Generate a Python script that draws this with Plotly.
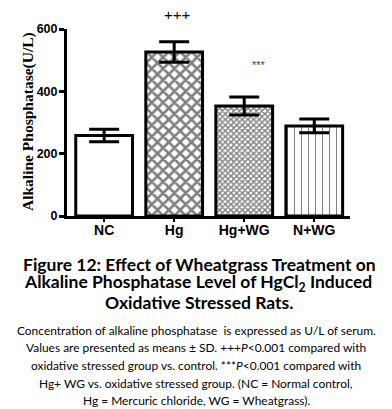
import plotly.graph_objects as go

categories = ["NC", "Hg", "Hg+WG", "N+WG"]
means = [258, 526, 353, 289]
sds = [20, 33, 29, 22]
y_ticks = [0, 200, 400, 600]
y_title = "Alkaline Phosphatase(U/L)"
title_lines = [
    "Figure 12: Effect of Wheatgrass Treatment on",
    "Alkaline Phosphatase Level of HgCl<sub>2</sub> Induced",
    "Oxidative Stressed Rats.",
]
caption_lines = [
    "Concentration of alkaline phosphatase  is expressed as U/L of serum.",
    "Values are presented as means \u00b1 SD. +++<i>P</i><0.001 compared with",
    "oxidative stressed group vs. control. ***<i>P</i><0.001 compared with",
    "Hg+ WG vs. oxidative stressed group. (NC = Normal control,",
    "Hg = Mercuric chloride, WG = Wheatgrass).",
]

OFF = 8  # default page body margin
W, H = 392, 409
L, R, T, B = 67 - OFF, 42 + OFF, 29 - OFF, 193 + OFF
pw, ph = W - L - R, H - T - B


def px(xp):
    return (xp - OFF - L) / pw


def py(yp):
    return (H - B - (yp - OFF)) / ph


fig = go.Figure()
fig.add_trace(go.Bar(
    x=categories, y=means, width=0.81,
    marker=dict(
        color="white",
        line=dict(color="black", width=3),
        pattern=dict(
            shape=["", "x", "x", "|"],
            size=[6, 8, 4, 7],
            solidity=[0.3, 0.55, 0.6, 0.15],
            fgcolor="black", bgcolor="white", fillmode="overlay",
        ),
    ),
    error_y=dict(type="data", array=sds, visible=True, color="black",
                 thickness=3, width=15),
    showlegend=False,
))

annotations = [
    dict(x=px(177), y=py(14.5), xref="paper", yref="paper", text="+++",
         showarrow=False, font=dict(family="Liberation Sans", size=15, color="black"),
         xanchor="center", yanchor="middle"),
    dict(x=px(259), y=py(65), xref="paper", yref="paper", text="***",
         showarrow=False, font=dict(family="Liberation Sans", size=11, color="#444444"),
         xanchor="center", yanchor="middle"),
    dict(x=px(28), y=py(122), xref="paper", yref="paper", text=y_title,
         textangle=-90, showarrow=False,
         font=dict(family="Liberation Serif", size=15.5, weight="bold", color="black"),
         xanchor="center", yanchor="middle"),
]

title_y = [264, 283, 302]
title_x = [199, 197.5, 198.5]
for t, yy, xx in zip(title_lines, title_y, title_x):
    annotations.append(dict(
        x=px(xx), y=py(yy), xref="paper", yref="paper", text=t, showarrow=False,
        font=dict(family="Lato", size=17.5, weight="bold", color="black"),
        xanchor="center", yanchor="middle",
    ))

cap_y = [330, 347, 365, 383, 400]
for t, yy in zip(caption_lines, cap_y):
    annotations.append(dict(
        x=px(196), y=py(yy), xref="paper", yref="paper", text=t, showarrow=False,
        font=dict(family="Lato", size=11.95, color="black"),
        xanchor="center", yanchor="middle",
    ))

fig.update_layout(
    width=W, height=H,
    margin=dict(l=L, r=R, t=T, b=B, autoexpand=False),
    plot_bgcolor="white", paper_bgcolor="white",
    annotations=annotations,
    xaxis=dict(
        range=[-0.53, 3.51], showline=True, linecolor="black", linewidth=3,
        ticks="outside", ticklen=3, tickwidth=1.5, tickcolor="black",
        ticklabelstandoff=-4,
        tickfont=dict(family="Liberation Sans", size=14, weight="bold", color="black"),
        showgrid=False, zeroline=False, fixedrange=True,
    ),
    yaxis=dict(
        range=[0, 600], tickvals=y_ticks, showline=True, linecolor="black",
        linewidth=3, ticks="outside", ticklen=5, tickwidth=2.5, tickcolor="black",
        ticklabelstandoff=-1,
        tickfont=dict(family="Liberation Sans", size=12.5, weight="bold", color="black"),
        showgrid=False, zeroline=False, fixedrange=True,
    ),
)

fig.write_html("out.html")
